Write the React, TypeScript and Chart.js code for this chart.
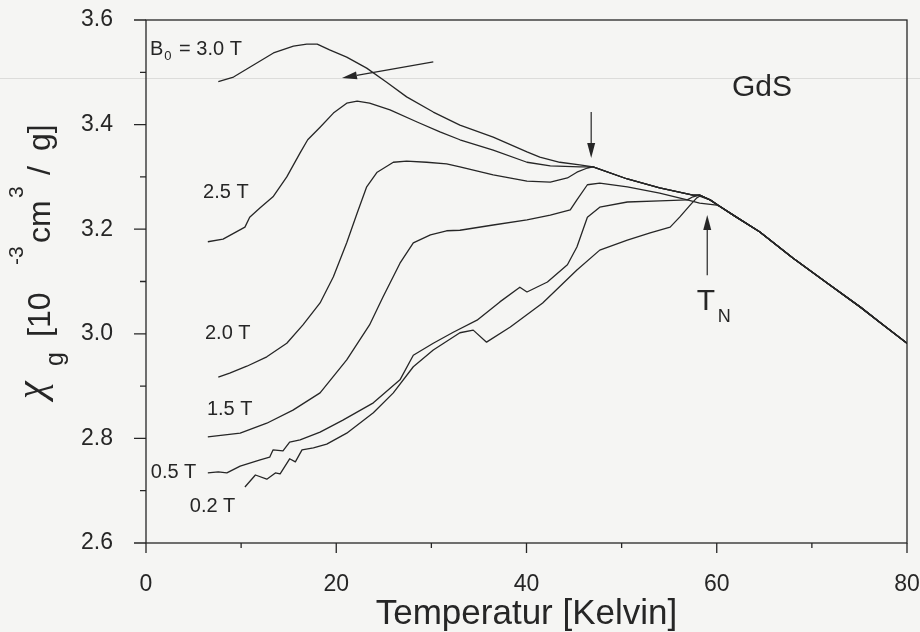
import React, { useEffect, useRef } from "react";
import { Chart, registerables } from "chart.js";
Chart.register(...registerables);

const FONT = "'Liberation Sans', Arial, Helvetica, sans-serif";
const GREEK = "'Liberation Serif', 'DejaVu Serif', serif";
const INK = "#262626";

// axis ticks
const xMajor = [0, 20, 40, 60, 80];
const xMinor = [10, 30, 50, 70];
const yMajor = [2.6, 2.8, 3.0, 3.2, 3.4, 3.6];
const yMinor = [2.7, 2.9, 3.1, 3.3, 3.5];

// shared parts of the curves (above ~47 K and above T_N)
const midT = [47.0, 50.6, 54.0, 57.5, 58.2];
const midChi = [3.319, 3.296, 3.279, 3.265, 3.265];
const tailT = [59.3, 60.3, 61.9, 64.5, 68.0, 71.6, 75.1, 77.2, 80.0];
const tailChi = [3.256, 3.244, 3.225, 3.195, 3.145, 3.097, 3.051, 3.021, 2.982];

// 3.0 T
const t30 = [7.6, 9.2, 11.3, 13.4, 15.5, 16.9, 18.0, 19.3, 21.1, 23.2, 25.3, 27.4, 30.2, 33.0, 36.5, 40.05, 41.4, 43.5, 45.6];
const c30 = [3.482, 3.491, 3.514, 3.537, 3.550, 3.554, 3.554, 3.543, 3.529, 3.508, 3.481, 3.453, 3.424, 3.399, 3.376, 3.348, 3.338, 3.328, 3.323];
// 2.5 T
const t25 = [6.5, 8.1, 10.4, 10.9, 12.0, 13.35, 14.8, 16.2, 17.0, 18.3, 19.7, 21.1, 22.2, 23.5, 25.65, 28.5, 30.9, 33.0, 36.5, 40.05, 42.5, 45.6];
const c25 = [3.176, 3.181, 3.204, 3.223, 3.241, 3.262, 3.300, 3.346, 3.371, 3.395, 3.422, 3.441, 3.445, 3.441, 3.428, 3.405, 3.386, 3.371, 3.351, 3.328, 3.321, 3.319];
// 2.0 T
const t20 = [7.6, 8.8, 10.6, 12.7, 14.8, 16.5, 18.3, 19.7, 21.1, 22.2, 23.2, 24.3, 26.0, 27.4, 29.5, 31.6, 33.0, 36.5, 40.05, 42.5, 44.3, 45.3, 46.4];
const c20 = [2.917, 2.925, 2.938, 2.956, 2.982, 3.017, 3.059, 3.109, 3.174, 3.231, 3.281, 3.309, 3.328, 3.330, 3.328, 3.325, 3.319, 3.304, 3.292, 3.290, 3.298, 3.309, 3.317];
// 1.5 T
const t15 = [6.5, 9.9, 12.7, 15.45, 18.3, 21.1, 23.5, 24.9, 26.7, 28.1, 29.9, 31.6, 33.0, 36.5, 40.05, 42.5, 44.6, 45.3, 46.4, 47.7, 50.6, 54.0, 56.9, 58.2, 60.0];
const c15 = [2.803, 2.810, 2.829, 2.854, 2.887, 2.950, 3.017, 3.070, 3.135, 3.174, 3.189, 3.197, 3.198, 3.208, 3.218, 3.227, 3.237, 3.256, 3.285, 3.288, 3.281, 3.269, 3.256, 3.250, 3.246];
// 0.5 T
const t05 = [6.5, 7.6, 8.5, 9.9, 12.0, 13.0, 13.35, 14.4, 15.1, 16.2, 18.3, 20.7, 23.9, 26.7, 28.1, 30.2, 32.3, 34.8, 37.2, 39.3, 40.05, 42.2, 44.3, 45.3, 46.4, 47.7, 50.6, 54.0, 56.9, 57.5, 58.2];
const c05 = [2.734, 2.736, 2.734, 2.747, 2.759, 2.764, 2.778, 2.776, 2.793, 2.797, 2.812, 2.835, 2.868, 2.912, 2.959, 2.982, 3.003, 3.026, 3.061, 3.089, 3.080, 3.099, 3.132, 3.166, 3.223, 3.242, 3.252, 3.254, 3.256, 3.262, 3.265];
// 0.2 T
const t02 = [10.4, 11.5, 12.7, 13.6, 14.1, 15.1, 15.7, 16.4, 17.6, 19.0, 21.1, 23.9, 26.0, 28.1, 30.2, 33.0, 34.4, 35.8, 38.3, 41.7, 45.3, 47.7, 50.6, 53.0, 55.1, 56.1, 57.2, 57.9, 58.2];
const c02 = [2.707, 2.730, 2.722, 2.734, 2.732, 2.761, 2.755, 2.778, 2.782, 2.789, 2.810, 2.849, 2.887, 2.937, 2.969, 3.002, 3.007, 2.984, 3.013, 3.059, 3.122, 3.160, 3.179, 3.193, 3.204, 3.223, 3.246, 3.260, 3.263];

// curve labels
const labelText = ["2.5 T", "2.0 T", "1.5 T", "0.5 T", "0.2 T"];
const labelT = [6.0, 6.2, 6.4, 0.5, 4.6];
const labelChi = [3.271, 3.0, 2.856, 2.734, 2.669];

// arrows [fromT, fromChi, toT, toChi]
const arrowFromT = [30.2, 46.8, 59.0];
const arrowFromChi = [3.52, 3.424, 3.112];
const arrowToT = [20.6, 46.8, 59.0];
const arrowToChi = [3.489, 3.336, 3.227];

// faint scan line of the scanned original
const scanLineChi = 3.489;

function pts(t: number[], c: number[]) {
  return t.map((v, i) => ({ x: v, y: c[i] }));
}
function withMid(t: number[], c: number[]) {
  return [...pts(t, c), ...pts(midT, midChi), ...pts(tailT, tailChi)];
}
function withTail(t: number[], c: number[]) {
  const last = t[t.length - 1];
  const tt = tailT.filter((v) => v > last);
  const cc = tailChi.filter((_, i) => tailT[i] > last);
  return [...pts(t, c), ...pts(tt, cc)];
}

function arrow(ctx: CanvasRenderingContext2D, x1: number, y1: number, x2: number, y2: number) {
  const ang = Math.atan2(y2 - y1, x2 - x1);
  const hl = 15, hw = 4;
  const bx = x2 - hl * Math.cos(ang), by = y2 - hl * Math.sin(ang);
  ctx.beginPath();
  ctx.moveTo(x1, y1);
  ctx.lineTo(bx, by);
  ctx.stroke();
  ctx.beginPath();
  ctx.moveTo(x2, y2);
  ctx.lineTo(bx + hw * Math.sin(ang), by - hw * Math.cos(ang));
  ctx.lineTo(bx - hw * Math.sin(ang), by + hw * Math.cos(ang));
  ctx.closePath();
  ctx.fill();
}

const decor = {
  id: "decor",
  beforeDraw(chart: any) {
    const { ctx, width, height } = chart;
    ctx.save();
    ctx.fillStyle = "#f5f5f3";
    ctx.fillRect(0, 0, width, height);
    ctx.restore();
  },
  beforeDatasetsDraw(chart: any) {
    const { ctx, width, scales } = chart;
    const p = Math.round(scales.y.getPixelForValue(scanLineChi)) + 0.5;
    ctx.save();
    ctx.strokeStyle = "#dcdcda";
    ctx.lineWidth = 1;
    ctx.beginPath();
    ctx.moveTo(0, p);
    ctx.lineTo(width, p);
    ctx.stroke();
    ctx.restore();
  },
  afterDraw(chart: any) {
    const { ctx, chartArea: a, scales } = chart;
    const xs = scales.x, ys = scales.y;
    ctx.save();
    ctx.strokeStyle = INK;
    ctx.fillStyle = INK;
    ctx.lineWidth = 1.3;
    ctx.strokeRect(a.left, a.top, a.right - a.left, a.bottom - a.top);
    ctx.beginPath();
    yMajor.forEach((v) => { const p = ys.getPixelForValue(v); ctx.moveTo(a.left - 12, p); ctx.lineTo(a.left, p); });
    yMinor.forEach((v) => { const p = ys.getPixelForValue(v); ctx.moveTo(a.left - 6, p); ctx.lineTo(a.left, p); });
    xMajor.forEach((v) => { const p = xs.getPixelForValue(v); ctx.moveTo(p, a.bottom); ctx.lineTo(p, a.bottom + 10); });
    xMinor.forEach((v) => { const p = xs.getPixelForValue(v); ctx.moveTo(p, a.bottom); ctx.lineTo(p, a.bottom + 5); });
    ctx.stroke();

    ctx.lineWidth = 1.2;
    arrowFromT.forEach((_, i) => {
      arrow(ctx, xs.getPixelForValue(arrowFromT[i]), ys.getPixelForValue(arrowFromChi[i]),
        xs.getPixelForValue(arrowToT[i]), ys.getPixelForValue(arrowToChi[i]));
    });

    // curve labels
    ctx.textBaseline = "middle";
    ctx.textAlign = "left";
    ctx.font = `20px ${FONT}`;
    labelText.forEach((s, i) => ctx.fillText(s, xs.getPixelForValue(labelT[i]), ys.getPixelForValue(labelChi[i])));
    // B0 = 3.0 T
    let bx = xs.getPixelForValue(0.42);
    const by = ys.getPixelForValue(3.543);
    ctx.fillText("B", bx, by);
    bx += ctx.measureText("B").width + 1;
    ctx.font = `13px ${FONT}`;
    ctx.fillText("0", bx, by + 7);
    bx += ctx.measureText("0").width + 2;
    ctx.font = `20px ${FONT}`;
    ctx.fillText(" = 3.0 T", bx, by);
    // GdS
    ctx.font = `30px ${FONT}`;
    ctx.fillText("GdS", xs.getPixelForValue(61.6), ys.getPixelForValue(3.47));
    // T_N
    const tx = xs.getPixelForValue(57.9);
    ctx.fillText("T", tx, ys.getPixelForValue(3.061));
    ctx.font = `18px ${FONT}`;
    ctx.fillText("N", tx + ctx.measureText("N").width + 8, ys.getPixelForValue(3.032));

    // y axis title
    ctx.translate(50, 397);
    ctx.rotate(-Math.PI / 2);
    ctx.textBaseline = "alphabetic";
    const segs: [string, string, number, number, number][] = [
      ["\u03C7", "italic " + "40px " + GREEK, 40, -2, -6],
      ["g", `25px ${FONT}`, 25, 31, 13],
      ["[10", `32px ${FONT}`, 32, 60, 0],
      ["-3", `21px ${FONT}`, 21, 132, -27],
      ["cm", `32px ${FONT}`, 32, 154, 0],
      ["3", `21px ${FONT}`, 21, 199, -27],
      ["/", `32px ${FONT}`, 32, 222, 0],
      ["g]", `32px ${FONT}`, 32, 246, 0],
    ];
    segs.forEach(([s, font, _size, off, dy]) => {
      ctx.font = font;
      ctx.fillText(s, off, dy);
    });
    ctx.restore();
  },
};

export default function App() {
  const ref = useRef<HTMLCanvasElement | null>(null);
  useEffect(() => {
    if (!ref.current) return;
    const line = { borderColor: INK, borderWidth: 1.3, pointRadius: 0, showLine: true, tension: 0, fill: false, borderJoinStyle: "round" as const };
    const chart = new Chart(ref.current, {
      type: "scatter",
      data: {
        datasets: [
          { label: "3.0 T", data: withMid(t30, c30), ...line },
          { label: "2.5 T", data: withMid(t25, c25), ...line },
          { label: "2.0 T", data: withMid(t20, c20), ...line },
          { label: "1.5 T", data: withTail(t15, c15), ...line },
          { label: "0.5 T", data: withTail(t05, c05), ...line },
          { label: "0.2 T", data: withTail(t02, c02), ...line },
        ],
      },
      options: {
        responsive: false,
        animation: false,
        devicePixelRatio: 1,
        layout: { padding: { left: 0, top: 20, right: 13, bottom: 0 } },
        plugins: { legend: { display: false }, tooltip: { enabled: false } },
        scales: {
          x: {
            type: "linear", min: 0, max: 80,
            ticks: { stepSize: 20, font: { family: FONT, size: 23 }, color: INK, padding: 20, maxRotation: 0 },
            grid: { display: false }, border: { display: false },
            title: { display: true, text: "Temperatur [Kelvin]", font: { family: FONT, size: 35, lineHeight: 1 }, color: INK, padding: { top: 0, bottom: 0 } },
            afterFit(s: any) { s.height = 89; s.paddingLeft = 0; s.paddingRight = 0; },
          },
          y: {
            type: "linear", min: 2.6, max: 3.6,
            ticks: { stepSize: 0.2, font: { family: FONT, size: 23 }, color: INK, padding: 25, callback: (v: any) => Number(v).toFixed(1) },
            grid: { display: false }, border: { display: false },
            afterFit(s: any) { s.width = 146; s.paddingTop = 0; s.paddingBottom = 0; },
          },
        },
      },
      plugins: [decor],
    });
    return () => chart.destroy();
  }, []);
  return (
    <div style={{ position: "fixed", left: 0, top: 0, width: 920, height: 632 }}>
      <canvas ref={ref} width={920} height={632} style={{ display: "block", width: 920, height: 632 }} />
    </div>
  );
}
